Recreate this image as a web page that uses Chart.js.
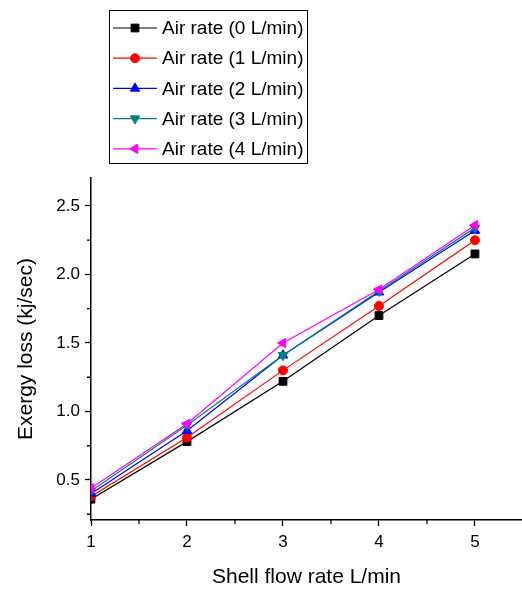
<!doctype html>
<html lang="en">
<head>
<meta charset="utf-8">
<title>Exergy loss vs shell flow rate</title>
<style>
  html, body { margin: 0; padding: 0; background: #fff; }
  #wrap { width: 522px; height: 593px; }
</style>
</head>
<body>
<div id="wrap"><canvas id="myChart" width="522" height="593"></canvas></div>

<script src="https://cdn.jsdelivr.net/npm/chart.js"></script>
<script>
  // data
  const flowRates = [1, 2, 3, 4, 5];
  const air0 = [0.36, 0.78, 1.22, 1.70, 2.15];
  const air1 = [0.38, 0.81, 1.30, 1.77, 2.25];
  const air2 = [0.40, 0.86, 1.41, 1.87, 2.32];
  const air3 = [0.42, 0.90, 1.41, 1.88, 2.34];
  const air4 = [0.44, 0.91, 1.50, 1.89, 2.36];
  const seriesNames = ['Air rate (0 L/min)', 'Air rate (1 L/min)', 'Air rate (2 L/min)', 'Air rate (3 L/min)', 'Air rate (4 L/min)'];
  const xTicks = [1, 2, 3, 4, 5];
  const xMinor = [1.5, 2.5, 3.5, 4.5];
  const yTicks = [0.5, 1.0, 1.5, 2.0, 2.5];
  const yMinor = [0.25, 0.75, 1.25, 1.75, 2.25];

  const colors = ['#000000', '#ff0000', '#0000ff', '#008080', '#ff00ff'];
  const markers = [
    { style: 'rect', rot: 0 },
    { style: 'circle', rot: 0 },
    { style: 'triangle', rot: 0 },
    { style: 'triangle', rot: 180 },
    { style: 'triangle', rot: -90 }
  ];
  const seriesValues = [air0, air1, air2, air3, air4];

  const datasets = seriesValues.map((vals, i) => ({
    label: seriesNames[i],
    data: flowRates.map((x, j) => ({ x: x, y: vals[j] })),
    borderColor: colors[i],
    backgroundColor: colors[i],
    borderWidth: 1.2,
    pointStyle: markers[i].style,
    pointRotation: markers[i].rot,
    pointRadius: markers[i].style === 'circle' ? 4.5 : 5.5,
    pointBorderWidth: 1,
    tension: 0,
    order: 4 - i
  }));

  const tickFont = { family: '"Liberation Sans Narrow", "Liberation Sans", Arial', size: 17 };
  const titleFont = { family: '"Liberation Sans", Arial', size: 21 };

  // minor ticks + boxed legend
  const extras = {
    id: 'extras',
    afterDraw(chart) {
      const ctx = chart.ctx;
      const xs = chart.scales.x, ys = chart.scales.y;
      const area = chart.chartArea;
      ctx.save();
      ctx.strokeStyle = '#000';
      ctx.lineWidth = 1.3;
      ctx.beginPath();
      xMinor.forEach(v => {
        const px = xs.getPixelForValue(v);
        ctx.moveTo(px, area.bottom);
        ctx.lineTo(px, area.bottom + 4);
      });
      yMinor.forEach(v => {
        const py = ys.getPixelForValue(v);
        ctx.moveTo(area.left, py);
        ctx.lineTo(area.left - 4, py);
      });
      ctx.stroke();

      // legend
      ctx.lineWidth = 1;
      ctx.strokeStyle = '#000';
      ctx.strokeRect(109.5, 10.5, 198, 153);
      ctx.font = '19px "Liberation Sans", Arial';
      ctx.textBaseline = 'middle';
      ctx.textAlign = 'left';
      chart.data.datasets.forEach((ds, i) => {
        const y = 28 + i * 30.2;
        ctx.strokeStyle = ds.borderColor;
        ctx.fillStyle = ds.backgroundColor;
        ctx.lineWidth = 1.2;
        ctx.beginPath();
        ctx.moveTo(113, y);
        ctx.lineTo(157, y);
        ctx.stroke();
        ctx.lineWidth = 1;
        Chart.helpers.drawPoint(ctx, {
          pointStyle: ds.pointStyle,
          rotation: ds.pointRotation,
          radius: ds.pointRadius,
          borderWidth: 1
        }, 135, y);
        ctx.fillStyle = '#000';
        ctx.fillText(ds.label, 162, y + 1);
      });
      ctx.restore();
    }
  };

  const config = {
    type: 'line',
    data: { datasets },
    options: {
      responsive: false,
      animation: false,
      layout: { autoPadding: false, padding: { top: 178, right: 0, left: 0, bottom: 0 } },
      plugins: { legend: { display: false }, tooltip: { enabled: false } },
      scales: {
        x: {
          type: 'linear',
          min: 1,
          max: 5.49,
          afterBuildTicks: s => { s.ticks = xTicks.map(v => ({ value: v })); },
          afterFit: s => { s.height = 73; s.paddingRight = 0; s.paddingLeft = 0; },
          grid: { drawOnChartArea: false, drawTicks: true, tickLength: 6, tickColor: '#000', tickWidth: 1.3 },
          border: { color: '#000', width: 1.5 },
          ticks: { color: '#000', font: tickFont, padding: 6, maxRotation: 0, callback: v => String(v) },
          title: { display: true, text: 'Shell flow rate L/min', color: '#000', font: titleFont, padding: { top: 0, bottom: 3 } }
        },
        y: {
          type: 'linear',
          min: 0.208,
          max: 2.704,
          afterBuildTicks: s => { s.ticks = yTicks.map(v => ({ value: v })); },
          afterFit: s => { s.width = 91; },
          grid: { drawOnChartArea: false, drawTicks: true, tickLength: 6, tickColor: '#000', tickWidth: 1.3 },
          border: { color: '#000', width: 1.5 },
          ticks: { color: '#000', font: tickFont, padding: 5, callback: v => Number(v).toFixed(1) },
          title: { display: true, text: 'Exergy loss (kj/sec)', color: '#000', font: titleFont, padding: { top: 14, bottom: 0 } }
        }
      }
    },
    plugins: [extras]
  };

  const ctx = document.getElementById('myChart');
  const myChart = new Chart(ctx, config);
</script>
</body>
</html>
